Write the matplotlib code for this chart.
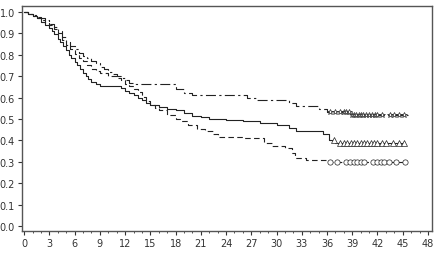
import numpy as np
import matplotlib.pyplot as plt
from matplotlib.ticker import MultipleLocator

# solid curve (triangles)
t_solid = [0, 0.5, 1, 1.5, 2, 2.5, 3, 3.3, 3.6, 4, 4.3, 4.6, 5, 5.3, 5.6, 6, 6.3, 6.6,
           7, 7.3, 7.6, 8, 8.5, 9, 11.5, 12, 12.5, 13, 13.5, 14, 14.5, 15, 16, 17, 18,
           19, 20, 21, 22, 24, 26, 28, 30, 31.5, 32.3, 35.5, 36.2, 37.0]
s_solid = [1.0, 0.99, 0.98, 0.97, 0.955, 0.94, 0.925, 0.91, 0.895, 0.875, 0.86, 0.84,
           0.82, 0.80, 0.785, 0.765, 0.75, 0.735, 0.715, 0.70, 0.685, 0.675, 0.665,
           0.655, 0.645, 0.63, 0.62, 0.61, 0.60, 0.59, 0.575, 0.565, 0.555, 0.545, 0.54,
           0.53, 0.515, 0.51, 0.50, 0.495, 0.49, 0.48, 0.47, 0.46, 0.445, 0.43, 0.40,
           0.39]
end_solid = 45.2
cens_solid = [36.8, 37.5, 38, 38.4, 38.8, 39.2, 39.6, 40, 40.4, 40.8, 41.2, 41.6, 42,
              42.5, 43, 43.8, 44.5, 45.2]

# dashed curve (circles)
t_dash = [0, 0.5, 1, 1.5, 2, 2.5, 3, 3.5, 4, 4.5, 5, 5.5, 6, 6.5, 7, 7.5, 8, 8.5, 9,
          10, 11, 11.5, 12, 12.5, 13, 13.5, 14, 14.5, 15, 15.5, 16, 17, 18, 18.5, 19.5,
          20.5, 21.5, 22.5, 23, 26, 28.5, 29.5, 31, 31.8, 32.2, 33.5, 36.3]
s_dash = [1.0, 0.99, 0.98, 0.97, 0.96, 0.95, 0.94, 0.92, 0.90, 0.87, 0.845, 0.825, 0.805,
          0.785, 0.77, 0.75, 0.735, 0.725, 0.715, 0.70, 0.69, 0.68, 0.665, 0.655, 0.64,
          0.625, 0.605, 0.585, 0.565, 0.55, 0.54, 0.52, 0.50, 0.49, 0.47, 0.455, 0.445,
          0.43, 0.415, 0.41, 0.39, 0.375, 0.365, 0.34, 0.32, 0.31, 0.30]
end_dash = 45.3
cens_dash = [36.3, 37.2, 38.3, 38.7, 39.2, 39.6, 40, 40.4, 41.5, 42, 42.4, 42.8, 43.4,
             44.2, 45.3]

# dash-dot curve (stars)
t_dd = [0, 0.5, 1, 1.5, 2, 2.5, 3, 3.5, 4, 4.5, 5, 5.5, 6, 6.5, 7, 7.5, 8, 8.5, 9, 9.5,
        10, 10.5, 11, 11.5, 12, 12.5, 13, 18, 19, 20, 26.5, 27.5, 31.5, 32.3, 35, 36, 39]
s_dd = [1.0, 0.99, 0.985, 0.975, 0.97, 0.96, 0.945, 0.93, 0.91, 0.885, 0.86, 0.84, 0.825,
        0.81, 0.795, 0.785, 0.77, 0.76, 0.745, 0.735, 0.72, 0.71, 0.70, 0.69, 0.68,
        0.67, 0.665, 0.64, 0.62, 0.61, 0.60, 0.59, 0.575, 0.56, 0.545, 0.535, 0.52]
end_dd = 45.6
cens_dd = [36.3, 37, 37.5, 38, 38.3, 38.6, 39, 39.2, 39.5, 39.8, 40, 40.3, 40.6, 41,
           41.3, 41.7, 42, 42.5, 43.5, 44, 44.5, 45.2]


def level_at(t, s, x):
    idx = np.searchsorted(t, x, side='right') - 1
    return np.array(s)[idx]


fig = plt.figure(figsize=(4.41, 2.55), dpi=100)
ax = fig.add_axes([0.050, 0.090, 0.930, 0.883])

col = '#222222'
curves = [
    (t_solid, s_solid, end_solid, cens_solid, '-', '^'),
    (t_dash, s_dash, end_dash, cens_dash, (0, (5, 3)), 'o'),
    (t_dd, s_dd, end_dd, cens_dd, (0, (9, 3, 2, 3)), '*'),
]
for t, s, end, cens, ls, mk in curves:
    tt = list(t) + [end]
    ss = list(s) + [s[-1]]
    ax.step(tt, ss, where='post', color=col, lw=0.8, linestyle=ls)
    ax.plot(cens, level_at(t, s, cens), linestyle='none', marker=mk, ms=3.8,
            mfc='white', mec=col, mew=0.5)

ax.set_xlim(-0.25, 48.5)
ax.set_ylim(-0.023, 1.028)
ax.xaxis.set_major_locator(MultipleLocator(3))
ax.xaxis.set_minor_locator(MultipleLocator(1))
ax.yaxis.set_major_locator(MultipleLocator(0.1))
ax.yaxis.set_major_formatter(plt.FuncFormatter(lambda v, p: f'{v:.1f}'))
ax.tick_params(labelsize=7, length=3, width=0.8, colors='#333333', pad=2)
ax.tick_params(which='minor', length=1.5, width=0.6, colors='#333333')
for sp in ax.spines.values():
    sp.set_color('#555555')
    sp.set_linewidth(1.0)

fig.savefig('out.png', dpi=100)
